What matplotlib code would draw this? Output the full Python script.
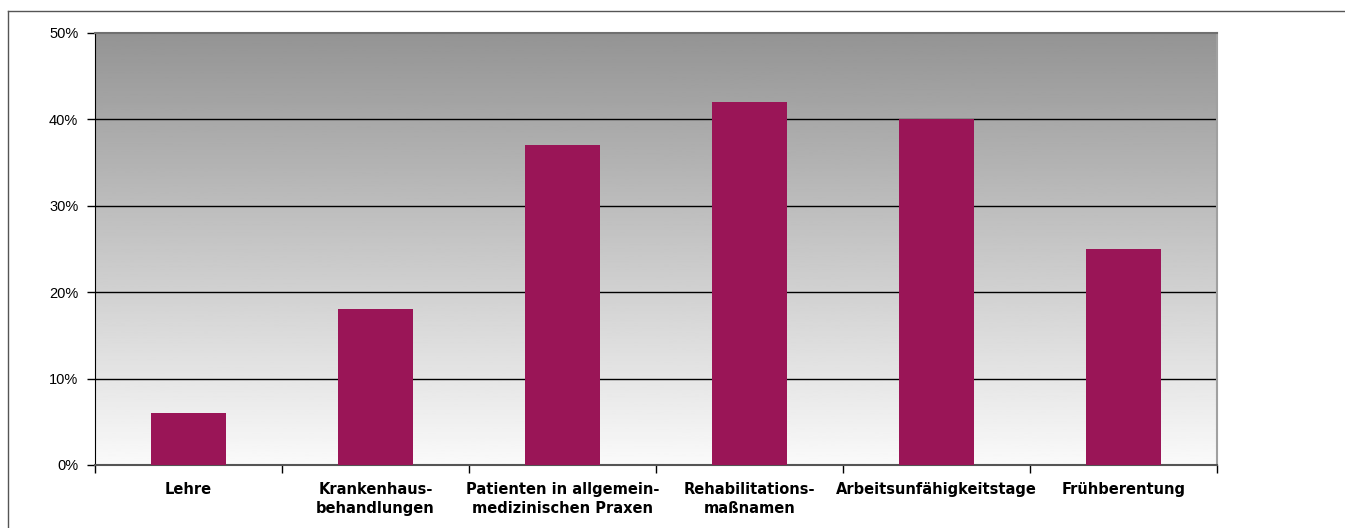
import numpy as np
import matplotlib.pyplot as plt
from matplotlib.lines import Line2D

categories = ["Lehre", "Krankenhaus-\nbehandlungen", "Patienten in allgemein-\nmedizinischen Praxen",
              "Rehabilitations-\nmaßnamen", "Arbeitsunfähigkeitstage", "Frühberentung"]
values = [6, 18, 37, 42, 40, 25]
yticks = [0, 10, 20, 30, 40, 50]

W, H = 1345, 528
fig = plt.figure(figsize=(W / 100, H / 100), dpi=100)
ax = fig.add_axes([95 / W, 1 - 465 / H, (1217 - 95) / W, (465 - 33) / H])

# grey gradient background
grad = np.linspace(0.98, 0.58, 256).reshape(-1, 1)
ax.imshow(grad, aspect="auto", cmap="gray", vmin=0, vmax=1, origin="lower",
          extent=[-0.5, len(values) - 0.5, 0, 50], zorder=0)

x = np.arange(len(values))
ax.bar(x, values, width=0.4, color="#9a1557", zorder=3)

ax.set_xlim(-0.5, len(values) - 0.5)
ax.set_ylim(0, 50)
ax.set_yticks(yticks)
ax.set_yticklabels([f"{v}%" for v in yticks], fontsize=10.5, family=["Liberation Sans", "DejaVu Sans"])
for v in yticks[1:-1]:
    ax.axhline(v, color="black", lw=1, zorder=2)

ax.set_xticks(np.arange(len(values) + 1) - 0.5, minor=False)
ax.set_xticklabels([])
ax.set_xticks(x, minor=True)
ax.set_xticklabels(categories, minor=True, fontsize=10.5, fontweight="bold",
                   family=["Liberation Sans Narrow", "DejaVu Sans"], linespacing=1.35, va="top")
ax.tick_params(axis="x", which="minor", length=0, pad=12)
ax.tick_params(axis="x", which="major", length=6, width=1, color="black")
ax.tick_params(axis="y", length=6, width=1, pad=6)

ax.spines["top"].set_color("#707070")
ax.spines["top"].set_linewidth(1.5)
ax.spines["right"].set_color("#a0a0a0")
ax.spines["right"].set_linewidth(1.5)
ax.spines["left"].set_color("black")
ax.spines["bottom"].set_color("#555555")
ax.spines["bottom"].set_linewidth(1.5)

# outer frame
fig.add_artist(Line2D([8 / W, 1], [1 - 11 / H, 1 - 11 / H], transform=fig.transFigure, color="#555555", lw=1))
fig.add_artist(Line2D([8 / W, 8 / W], [0, 1 - 11 / H], transform=fig.transFigure, color="#555555", lw=1))

fig.savefig("out.png", dpi=100)
